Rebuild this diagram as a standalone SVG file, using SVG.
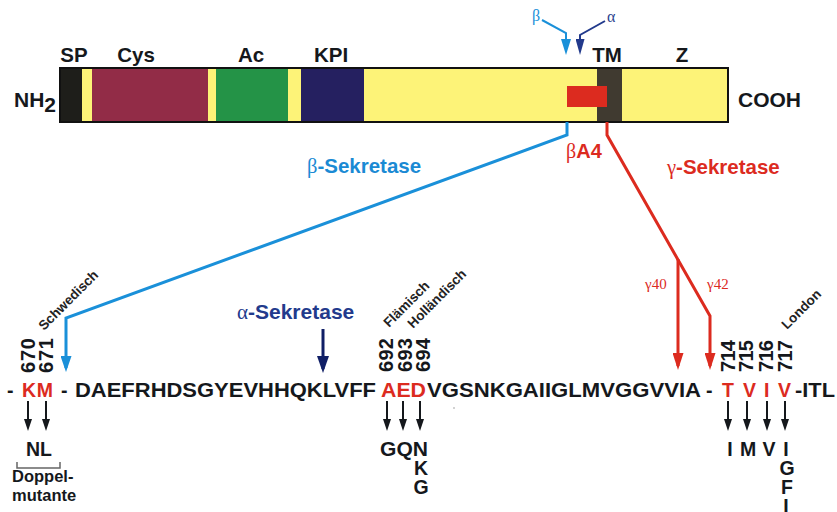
<svg xmlns="http://www.w3.org/2000/svg" width="837" height="512" viewBox="0 0 837 512">
<style>
.b{font-family:"Liberation Sans",Arial,sans-serif;font-weight:bold}
.s{font-family:"Liberation Serif","Times New Roman",serif;font-weight:normal}
.k{fill:#15181c}
.r{fill:#dc2b1f}
.rot{font-family:"Liberation Sans",Arial,sans-serif;font-weight:bold;font-size:13.5px;fill:#222}
.num{font-family:"Liberation Sans",Arial,sans-serif;font-weight:bold;font-size:20px;fill:#15181c}
.seq{font-family:"Liberation Sans",Arial,sans-serif;font-weight:bold;font-size:19.5px}
.mut{font-family:"Liberation Sans",Arial,sans-serif;font-weight:bold;font-size:19.5px;fill:#15181c;text-anchor:middle}
.dom{font-family:"Liberation Sans",Arial,sans-serif;font-weight:bold;font-size:20.5px;fill:#15181c;text-anchor:middle}
.ln{fill:none;stroke-linejoin:miter}
</style>
<defs>
<marker id="mBlue" markerUnits="userSpaceOnUse" markerWidth="16" markerHeight="11" refX="12" refY="5.5" orient="auto"><path d="M0,0 L16,5.5 L0,11 z" fill="#1a90d9"/></marker>
<marker id="mRed" markerUnits="userSpaceOnUse" markerWidth="17" markerHeight="11" refX="13" refY="5.5" orient="auto"><path d="M0,0 L17,5.5 L0,11 z" fill="#dc2b1f"/></marker>
<marker id="mNavy" markerUnits="userSpaceOnUse" markerWidth="17" markerHeight="12" refX="13" refY="6" orient="auto"><path d="M0,0 L17,6 L0,12 z" fill="#101f66"/></marker>
<marker id="mBlueS" markerUnits="userSpaceOnUse" markerWidth="16" markerHeight="10" refX="12" refY="5" orient="auto"><path d="M0,0 L16,5 L0,10 z" fill="#1a90d9"/></marker>
<marker id="mNavyS" markerUnits="userSpaceOnUse" markerWidth="16" markerHeight="9" refX="12" refY="4.5" orient="auto"><path d="M0,0 L16,4.5 L0,9 z" fill="#223a8c"/></marker>
<marker id="mBlk" markerUnits="userSpaceOnUse" markerWidth="12" markerHeight="8" refX="9" refY="4" orient="auto"><path d="M0,0 L12,4 L0,8 z" fill="#15181c"/></marker>
</defs>

<g id="app-bar">
<rect x="60" y="68" width="668" height="54" fill="#fdf378"/>
<rect x="60" y="68" width="22" height="54" fill="#1e1e1a"/>
<rect x="92" y="68" width="116" height="54" fill="#922c47"/>
<rect x="216" y="68" width="72" height="54" fill="#249347"/>
<rect x="301" y="68" width="63" height="54" fill="#252060"/>
<rect x="597" y="68" width="25" height="54" fill="#403a30"/>
<rect x="567" y="86" width="40" height="21" fill="#dc2b1f"/>
<rect x="60" y="68" width="668" height="54" fill="none" stroke="#111" stroke-width="2"/>
</g>

<g id="domain-labels">
<text class="dom" x="74" y="62">SP</text>
<text class="dom" x="136" y="62">Cys</text>
<text class="dom" x="251" y="62">Ac</text>
<text class="dom" x="331" y="62">KPI</text>
<text class="dom" x="607" y="62">TM</text>
<text class="dom" x="682" y="62">Z</text>
<text class="b k" x="14" y="107" font-size="21">NH<tspan dy="5">2</tspan></text>
<text class="b k" x="738" y="107" font-size="21">COOH</text>
</g>

<g id="top-arrows">
<text class="s" x="532" y="21" font-size="16" fill="#1a90d9">β</text>
<text class="s" x="607" y="22" font-size="16" fill="#2b3f8f">α</text>
</g>

<g id="connectors">
<path class="ln" d="M542,20 L566,33 L566,51" stroke="#1a90d9" stroke-width="2" marker-end="url(#mBlueS)"/>
<path class="ln" d="M605,21 L580,35 L580,51" stroke="#223a8c" stroke-width="2" marker-end="url(#mNavyS)"/>
<path class="ln" d="M567,122 L567,135 L66,318 L66,368" stroke="#1a90d9" stroke-width="3" marker-end="url(#mBlue)"/>
<path class="ln" d="M607,122 L607,135 L710,316 L710,366" stroke="#dc2b1f" stroke-width="3" marker-end="url(#mRed)"/>
<path class="ln" d="M678,259 L678,366" stroke="#dc2b1f" stroke-width="3" marker-end="url(#mRed)"/>
<path class="ln" d="M323,329 L323,369" stroke="#101f66" stroke-width="3" marker-end="url(#mNavy)"/>
<g stroke="#15181c" stroke-width="2" class="ln">
<path d="M28,401 L28,428" marker-end="url(#mBlk)"/>
<path d="M46,401 L46,428" marker-end="url(#mBlk)"/>
<path d="M387,401 L387,428" marker-end="url(#mBlk)"/>
<path d="M403,401 L403,428" marker-end="url(#mBlk)"/>
<path d="M420,401 L420,428" marker-end="url(#mBlk)"/>
<path d="M728,401 L728,428" marker-end="url(#mBlk)"/>
<path d="M747,401 L747,428" marker-end="url(#mBlk)"/>
<path d="M767,401 L767,428" marker-end="url(#mBlk)"/>
<path d="M785,401 L785,428" marker-end="url(#mBlk)"/>
</g>
</g>

<g id="enzyme-labels">
<text class="b" x="307" y="173" font-size="20.5" fill="#1a8ad4"><tspan class="s">β</tspan>-Sekretase</text>
<text class="b" x="566" y="158" font-size="20" fill="#dc2b1f"><tspan class="s">β</tspan>A4</text>
<text class="b" x="667" y="174" font-size="20.5" fill="#dc2b1f"><tspan class="s">γ</tspan>-Sekretase</text>
<text class="b" x="237" y="319" font-size="21" fill="#223a8c"><tspan class="s">α</tspan>-Sekretase</text>
<text class="s" x="645" y="289" font-size="15" fill="#dc2b1f">γ40</text>
<text class="s" x="707" y="289" font-size="15" fill="#dc2b1f">γ42</text>
</g>

<g id="mutation-names">
<text class="rot" transform="translate(44,331) rotate(-45)">Schwedisch</text>
<text class="rot" transform="translate(389,328) rotate(-45)">Flämisch</text>
<text class="rot" transform="translate(413,329) rotate(-45)">Holländisch</text>
<text class="rot" transform="translate(787,330) rotate(-45)">London</text>
</g>

<g id="positions">
<text class="num" transform="translate(35,373) rotate(-90)" textLength="35">670</text>
<text class="num" transform="translate(53,373) rotate(-90)" textLength="35">671</text>
<text class="num" transform="translate(393,372) rotate(-90)" textLength="34">692</text>
<text class="num" transform="translate(412,372) rotate(-90)" textLength="34">693</text>
<text class="num" transform="translate(430,372) rotate(-90)" textLength="34">694</text>
<text class="num" transform="translate(735,372) rotate(-90)" textLength="32">714</text>
<text class="num" transform="translate(753,372) rotate(-90)" textLength="32">715</text>
<text class="num" transform="translate(773,372) rotate(-90)" textLength="32">716</text>
<text class="num" transform="translate(792,372) rotate(-90)" textLength="32">717</text>
</g>

<g id="sequence">
<text class="seq k" x="7" y="397">-</text>
<text class="seq r" x="22" y="397" textLength="31">KM</text>
<text class="seq k" x="61" y="397">-</text>
<text class="seq k" x="75" y="397" textLength="301" lengthAdjust="spacingAndGlyphs">DAEFRHDSGYEVHHQKLVFF</text>
<text class="seq r" x="381" y="397" textLength="45" lengthAdjust="spacingAndGlyphs">AED</text>
<text class="seq k" x="427" y="397" textLength="274" lengthAdjust="spacingAndGlyphs">VGSNKGAIIGLMVGGVVIA</text>
<text class="seq k" x="706" y="397">-</text>
<text class="seq r" x="722" y="397">T</text>
<text class="seq r" x="743" y="397">V</text>
<text class="seq r" x="764" y="397">I</text>
<text class="seq r" x="778" y="397">V</text>
<text class="seq k" x="795" y="397" textLength="40" lengthAdjust="spacingAndGlyphs">-ITL</text>
<circle cx="454" cy="408" r="0.8" fill="#999"/>
</g>

<g id="mutations">
<text class="mut" x="39" y="456">NL</text>
<path d="M17,462 L17,468 L60,468 L60,462" fill="none" stroke="#666" stroke-width="1.5"/>
<text class="b k" x="12" y="482" font-size="16.5">Doppel-</text>
<text class="b k" x="12" y="501" font-size="16.5">mutante</text>
<text class="b k" x="380" y="456" font-size="19.5" textLength="48" lengthAdjust="spacingAndGlyphs">GQN</text>
<text class="mut" x="421" y="475">K</text>
<text class="mut" x="421" y="494">G</text>
<text class="mut" x="730" y="456">I</text>
<text class="mut" x="748" y="456">M</text>
<text class="mut" x="769" y="456">V</text>
<text class="mut" x="786" y="456">I</text>
<text class="mut" x="787" y="475">G</text>
<text class="mut" x="787" y="494">F</text>
<text class="mut" x="786" y="513">I</text>
</g>
</svg>
